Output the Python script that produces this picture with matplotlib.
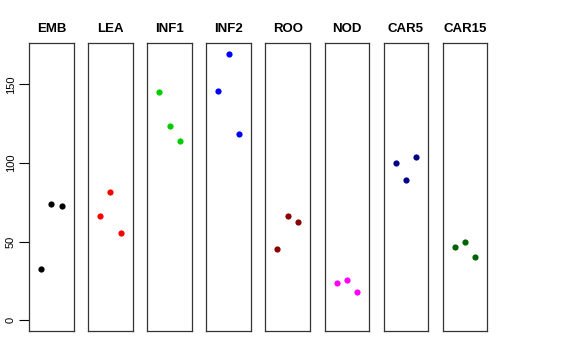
import matplotlib
matplotlib.use("Agg")
import matplotlib.pyplot as plt

plt.rcParams['font.family'] = ['Liberation Sans', 'DejaVu Sans']

# tissues and their three replicate values
tissues = ["EMB", "LEA", "INF1", "INF2", "ROO", "NOD", "CAR5", "CAR15"]
colors = ["#000000", "#FF0000", "#00CD00", "#0000FF",
          "#8B0000", "#FF00FF", "#00008B", "#006400"]
reps = [1, 2, 3]
emb = [32.6, 73.7, 72.4]
lea = [66.2, 81.3, 55.6]
inf1 = [145.1, 123.8, 114.0]
inf2 = [145.6, 169.3, 118.5]
roo = [45.1, 66.0, 62.2]
nod = [23.5, 25.4, 17.8]
car5 = [100.3, 88.9, 104.1]
car15 = [46.3, 49.9, 40.0]
values = [emb, lea, inf1, inf2, roo, nod, car5, car15]
yticks = [0, 50, 100, 150]

W, H = 576, 360
fig = plt.figure(figsize=(W / 100, H / 100), dpi=100)

ymax = max(max(v) for v in values)
pad = 0.04 * ymax
left0, step, width = 29, 59.1, 44.7
top, bottom = 43.3, 331

for i, (name, col, vals) in enumerate(zip(tissues, colors, values)):
    x0 = left0 + i * step
    ax = fig.add_axes([x0 / W, 1 - bottom / H, width / W, (bottom - top) / H])
    ax.scatter(reps, vals, s=20, color=col, zorder=3, linewidths=0)
    ax.set_xlim(-0.16, 4.16)
    ax.set_ylim(-pad, ymax + pad)
    ax.set_xticks([])
    for s in ax.spines.values():
        s.set_linewidth(0.9)
        s.set_color("#333333")
    ax.set_title(name, fontsize=9.5, fontweight="bold", pad=8)
    if i == 0:
        ax.set_yticks(yticks)
        ax.set_yticklabels([str(t) for t in yticks], rotation=90, va="center", fontsize=8)
        ax.tick_params(axis="y", length=7, width=0.8, pad=2.5)
    else:
        ax.set_yticks([])

fig.savefig("out.png", dpi=100)
